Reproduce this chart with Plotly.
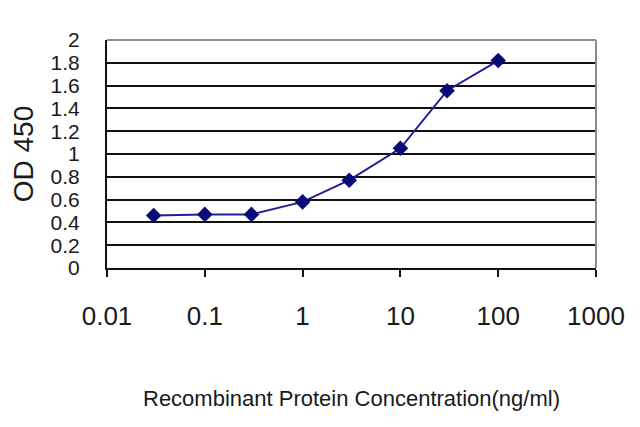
import plotly.graph_objects as go

conc = [0.03, 0.1, 0.3, 1, 3, 10, 30, 100]
od450 = [0.46, 0.47, 0.47, 0.58, 0.77, 1.05, 1.555, 1.82]
x_ticks = [0.01, 0.1, 1, 10, 100, 1000]
x_tick_labels = ["0.01", "0.1", "1", "10", "100", "1000"]
y_ticks = [0, 0.2, 0.4, 0.6, 0.8, 1, 1.2, 1.4, 1.6, 1.8, 2]
y_tick_labels = ["0", "0.2", "0.4", "0.6", "0.8", "1", "1.2", "1.4", "1.6", "1.8", "2"]

FONT = "Liberation Sans, Arial, sans-serif"

fig = go.Figure()
fig.add_trace(go.Scatter(
    x=conc, y=od450, mode="lines+markers",
    line=dict(color="#1f1f96", width=2),
    marker=dict(symbol="diamond", size=12, color="#0a0a78"),
    showlegend=False,
))

fig.update_layout(
    width=640, height=427,
    margin=dict(l=99, r=52, t=32, b=167, autoexpand=False),
    paper_bgcolor="white", plot_bgcolor="white",
    font=dict(family=FONT, color="#1a1a1a"),
    xaxis=dict(
        type="log", range=[-2, 3],
        tickvals=x_ticks, ticktext=x_tick_labels,
        showgrid=False, zeroline=False,
        showline=True, linecolor="#111", linewidth=2,
        ticks="outside", ticklen=7, tickwidth=2, tickcolor="#111",
        tickfont=dict(size=26, family=FONT),
        ticklabelstandoff=17,
        automargin=False,
        title=dict(text="Recombinant Protein Concentration(ng/ml)",
                   font=dict(size=22, family=FONT), standoff=60),
    ),
    yaxis=dict(
        range=[0, 2],
        tickvals=y_ticks, ticktext=y_tick_labels,
        showgrid=True, gridcolor="#111", gridwidth=2,
        zeroline=False,
        showline=True, linecolor="#111", linewidth=2,
        ticks="", tickfont=dict(size=21, family=FONT),
        ticklabelstandoff=21,
        automargin=False,
        title=dict(text="OD 450", font=dict(size=28, family=FONT), standoff=19),
    ),
    shapes=[
        dict(type="line", xref="paper", yref="paper", x0=0, x1=1, y0=1, y1=1,
             line=dict(color="#8c8c8c", width=2), layer="above"),
        dict(type="line", xref="paper", yref="paper", x0=1, x1=1, y0=0, y1=1,
             line=dict(color="#8c8c8c", width=2), layer="above"),
    ],
)

fig.write_html("out.html")
